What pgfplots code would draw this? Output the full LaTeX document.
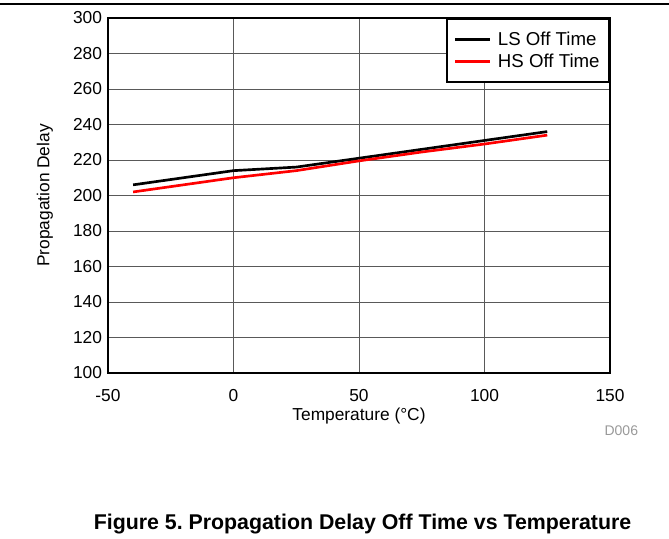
\documentclass[border=0pt]{standalone}
\usepackage{pgfplots}
\pgfplotsset{compat=1.18}
\usepackage{fontspec}
\setmainfont{Liberation Sans}

\pgfplotstableread{
T   ls    hs
-40 206   202
0   214   210
25  216   214
50  221   219.5
75  226   224.5
100 231   229
125 236   234
}\delaydata

\begin{document}
\begin{tikzpicture}
\path[use as bounding box] (0,0) rectangle (501.75pt,404.25pt);
\draw[line width=1.2pt] (0,401.25pt) -- (501.75pt,401.25pt);
\begin{axis}[
  at={(81pt,124.5pt)}, anchor=south west,
  scale only axis,
  width=376.5pt, height=266.25pt,
  xmin=-50, xmax=150, ymin=100, ymax=300,
  xtick={-50,0,...,150},
  ytick={100,120,...,300},
  grid=major,
  major grid style={line width=0.7pt, draw=black!65},
  axis line style={line width=2pt},
  tick style={draw=none},
  /pgf/number format/assume math mode=true,
  ticklabel style={font=\fontsize{13}{15}\selectfont},
  xticklabel style={anchor=center, yshift=-16.9pt},
  yticklabel style={xshift=-1pt},
  xlabel={Temperature (°C)},
  ylabel={Propagation Delay},
  label style={font=\fontsize{13}{15}\selectfont},
  xlabel style={at={(axis description cs:0.5,-0.121)}, anchor=center},
  ylabel style={at={(axis description cs:-0.1255,0.5)}, anchor=center},
  legend cell align=left,
  legend style={at={(1,1)}, anchor=north east, draw=black, line width=1.6pt,
    font=\fontsize{14}{16}\selectfont, inner xsep=5pt, inner ysep=7.5pt,
    row sep=1pt,
    /tikz/every odd column/.append style={column sep=3pt}},
  legend image code/.code={\draw[#1, line width=2pt] (0pt,0pt) -- (26pt,0pt);},
]
\addplot[black, line width=2pt] table[x=T, y=ls] {\delaydata};
\addlegendentry{LS Off Time}
\addplot[red, line width=2pt] table[x=T, y=hs] {\delaydata};
\addlegendentry{HS Off Time}
\end{axis}
\node[text=black!40, font=\fontsize{10.5}{12}\selectfont] at (466pt,81pt) {D006};
\node[anchor=base, font=\bfseries\fontsize{16}{18}\selectfont] at (271.9pt,6.75pt) {Figure 5.\ Propagation Delay Off Time vs Temperature};
\end{tikzpicture}
\end{document}
